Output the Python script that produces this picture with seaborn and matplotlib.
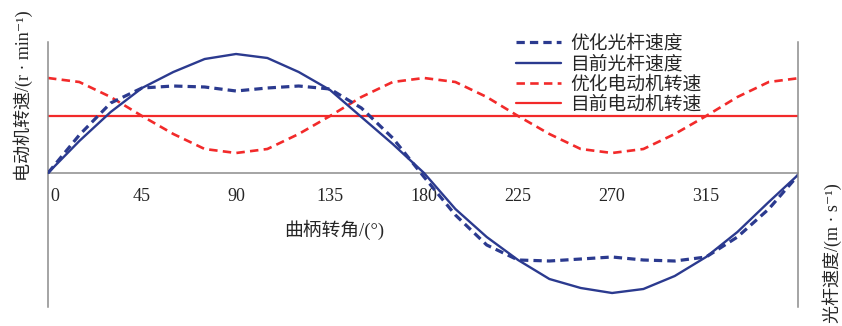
import numpy as np
import matplotlib
matplotlib.use('Agg')
import matplotlib.pyplot as plt
import matplotlib.transforms as mtransforms
import seaborn as sns

sns.set_style('white')
plt.rcParams['font.family'] = ['Liberation Serif', 'Noto Sans CJK SC', 'DejaVu Sans']
plt.rcParams['axes.unicode_minus'] = False

# 曲柄转角 (°)
angle = [0, 15, 30, 45, 60, 75, 90, 105, 120, 135, 150, 165, 180,
         195, 210, 225, 240, 255, 270, 285, 300, 315, 330, 345, 360]

# 光杆速度 (相对刻度, 图中无数值)
rod_opt = [0, 38, 70, 85, 87, 86, 82, 85, 87, 84, 65, 35, -4,
           -42, -72, -87, -88, -86, -84, -87, -88, -84, -64, -36, 0]
rod_now = [0, 32, 61, 85, 101, 114, 119, 115, 101, 83, 56, 29, 0,
           -36, -64, -87, -106, -115, -120, -116, -103, -84, -59, -29, 0]

# 电动机转速 (相对刻度)
motor_opt = [95, 91, 76, 57, 39, 24, 20, 24, 39, 57, 76, 91, 95,
             91, 76, 57, 39, 24, 20, 24, 39, 57, 76, 91, 95]
motor_now = [57] * len(angle)

labels = ['优化光杆速度', '目前光杆速度', '优化电动机转速', '目前电动机转速']
xticks = [0, 45, 90, 135, 180, 225, 270, 315]

blue = '#2B3A8F'
red = '#F22A2A'
gray = '#8C8C8C'

fig = plt.figure(figsize=(8.42, 3.26), dpi=100)
ax = fig.add_axes([48 / 842, 1 - 307 / 326, 750 / 842, 265 / 326])
ax2 = ax.twinx()

# 电动机转速 (左轴)
sns.lineplot(x=angle, y=motor_opt, ax=ax, color=red, lw=1.9,
             linestyle=(0, (3.2, 2.0)), label=labels[2], legend=False)
sns.lineplot(x=angle, y=motor_now, ax=ax, color=red, lw=1.6,
             label=labels[3], legend=False)

# 光杆速度 (右轴)
sns.lineplot(x=angle, y=rod_opt, ax=ax2, color=blue, lw=2.3,
             linestyle=(0, (2.6, 1.6)), label=labels[0], legend=False)
sns.lineplot(x=angle, y=rod_now, ax=ax2, color=blue, lw=1.7,
             label=labels[1], legend=False)

for a in (ax, ax2):
    a.set_xlim(0, 359)
    a.set_ylim(-134, 131)
    a.set_yticks([])
    a.set_ylabel('')
    a.patch.set_visible(False)
    for s in a.spines.values():
        s.set_color(gray)
        s.set_linewidth(1.1)
    a.spines['top'].set_visible(False)

ax.spines['right'].set_visible(False)
ax2.spines['left'].set_visible(False)
ax2.spines['bottom'].set_visible(False)
ax.spines['bottom'].set_position(('data', 0))

ax.set_xticks(xticks)
ax.set_xticklabels([str(t) for t in xticks])
ax.tick_params(axis='x', direction='in', length=5, width=1.1, color=gray,
               pad=11, labelsize=13)
lab0 = ax.get_xticklabels()[0]
lab0.set_horizontalalignment('left')
lab0.set_transform(lab0.get_transform() +
                   mtransforms.ScaledTranslation(2 / 72, 0, fig.dpi_scale_trans))

ax.text((334 - 48) / 750, (307 - 230) / 265, '曲柄转角/(°)', transform=ax.transAxes,
        ha='center', va='center', fontsize=13.5)

fig.text(23 / 842, 1 - 10 / 326, '电动机转速/(r · min⁻¹)', rotation=90,
         ha='center', va='top', fontsize=13)
fig.text(832 / 842, 1 - 183 / 326, '光杆速度/(m · s⁻¹)', rotation=90,
         ha='center', va='top', fontsize=13)

h1, _ = ax.get_legend_handles_labels()
h2, _ = ax2.get_legend_handles_labels()
fig.legend(h2 + h1, labels, loc='upper left',
           bbox_to_anchor=(516 / 842, 1 - 35 / 326), frameon=False,
           fontsize=13.5, handlelength=2.4, handletextpad=0.5,
           labelspacing=0.15, borderpad=0, borderaxespad=0)

plt.savefig('out.png', dpi=100)
